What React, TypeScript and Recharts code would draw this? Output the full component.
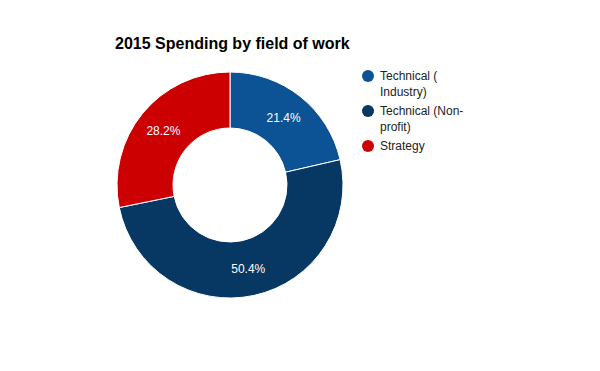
import { PieChart, Pie, Cell } from "recharts";

const categories = ["Technical ( Industry)", "Technical (Non-profit)", "Strategy"];
const shares = [21.4, 50.4, 28.2];
const colors = ["#0b5394", "#073763", "#cc0000"];

const data = categories.map((name, i) => ({ name, value: shares[i] }));

const RAD = Math.PI / 180;
const FONT = "Liberation Sans, Arial, sans-serif";

function SliceLabel(props: any) {
  const { cx, cy, midAngle, innerRadius, outerRadius, value } = props;
  const r = (innerRadius + outerRadius) / 2 + 1;
  const x = cx + r * Math.cos(-midAngle * RAD);
  const y = cy + r * Math.sin(-midAngle * RAD);
  return (
    <text
      x={x}
      y={y}
      fill="#ffffff"
      fontSize={12}
      fontFamily={FONT}
      textAnchor="middle"
      dominantBaseline="central"
    >
      {value.toFixed(1)}%
    </text>
  );
}

function LegendList() {
  return (
    <div
      style={{
        position: "absolute",
        left: 362,
        top: 69,
        width: 120,
        fontFamily: FONT,
        fontSize: 12,
        color: "#222",
      }}
    >
      {data.map((d, i) => (
        <div key={d.name} style={{ display: "flex", alignItems: "flex-start", marginBottom: 4 }}>
          <span
            style={{
              display: "inline-block",
              width: 12,
              height: 12,
              borderRadius: "50%",
              background: colors[i],
              marginTop: 1,
              marginRight: 6,
              flexShrink: 0,
            }}
          />
          <span style={{ width: 92, lineHeight: "16px", marginTop: -1 }}>{d.name}</span>
        </div>
      ))}
    </div>
  );
}

export default function App() {
  return (
    <div style={{ position: "absolute", left: 0, top: 0, width: 600, height: 371, background: "#fff" }}>
      <div
        style={{
          position: "absolute",
          left: 115,
          top: 35,
          fontFamily: FONT,
          fontSize: 16,
          fontWeight: "bold",
          color: "#000",
        }}
      >
        2015 Spending by field of work
      </div>
      <PieChart width={600} height={371} margin={{ top: 0, right: 0, bottom: 0, left: 0 }}>
        <Pie
          data={data}
          dataKey="value"
          nameKey="name"
          cx={230}
          cy={185}
          outerRadius={113}
          innerRadius={57}
          startAngle={90}
          endAngle={-270}
          stroke="#ffffff"
          strokeWidth={1}
          label={SliceLabel}
          labelLine={false}
          isAnimationActive={false}
        >
          {data.map((d, i) => (
            <Cell key={d.name} fill={colors[i]} />
          ))}
        </Pie>
      </PieChart>
      <LegendList />
    </div>
  );
}
